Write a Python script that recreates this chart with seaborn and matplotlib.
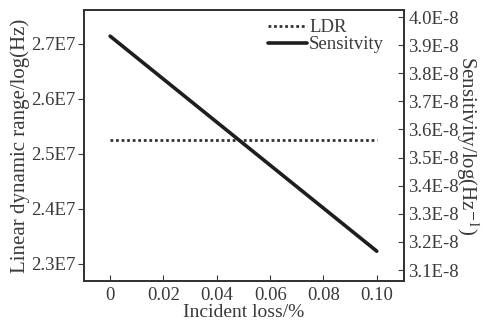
import matplotlib
matplotlib.use("Agg")
import matplotlib.pyplot as plt
import seaborn as sns
import pandas as pd

incident_loss = [0.0, 0.10]
ldr = [2.525e7, 2.525e7]
sensitivity = [3.932e-8, 3.167e-8]
x_ticks = [0, 0.02, 0.04, 0.06, 0.08, 0.10]
x_labels = ["0", "0.02", "0.04", "0.06", "0.08", "0.10"]
left_ticks = [2.3e7, 2.4e7, 2.5e7, 2.6e7, 2.7e7]
left_labels = ["2.3E7", "2.4E7", "2.5E7", "2.6E7", "2.7E7"]
right_ticks = [3.1e-8, 3.2e-8, 3.3e-8, 3.4e-8, 3.5e-8, 3.6e-8, 3.7e-8, 3.8e-8, 3.9e-8, 4.0e-8]
right_labels = ["3.1E-8", "3.2E-8", "3.3E-8", "3.4E-8", "3.5E-8", "3.6E-8", "3.7E-8", "3.8E-8", "3.9E-8", "4.0E-8"]

sns.set_style("ticks")
plt.rcParams["font.family"] = ["Liberation Serif", "DejaVu Serif"]
plt.rcParams["mathtext.fontset"] = "stix"

df = pd.DataFrame({"x": incident_loss, "ldr": ldr, "sens": sensitivity})

fig = plt.figure(figsize=(4.83, 3.24), dpi=100)
ax = fig.add_axes([84/483, 1-281/324, (404-84)/483, (281-10)/324])
ax2 = ax.twinx()

sns.lineplot(data=df, x="x", y="ldr", ax=ax, color="#333333", linestyle=(0, (1, 1)), linewidth=2.0, label="LDR", legend=False)
sns.lineplot(data=df, x="x", y="sens", ax=ax2, color="#1e1e1e", linestyle="-", linewidth=2.6, label="Sensitvity", legend=False)

ax.set_xlim(-0.0098, 0.1102)
ax.set_ylim(2.2687e7, 2.7615e7)
ax2.set_ylim(3.061e-8, 4.025e-8)

ax.set_xticks(x_ticks)
ax.set_xticklabels(x_labels)
ax.set_yticks(left_ticks)
ax.set_yticklabels(left_labels)
ax2.set_yticks(right_ticks)
ax2.set_yticklabels(right_labels)

fs = 13.5
tc = "#3a3a3a"
ax.tick_params(axis="x", direction="in", length=4, labelsize=fs, colors=tc, pad=4)
ax.tick_params(axis="y", direction="out", length=4, labelsize=fs, colors=tc, pad=2)
ax2.tick_params(axis="y", direction="in", length=4, labelsize=fs, colors=tc, pad=3)

ax.set_xlabel("Incident loss/%", fontsize=14, color=tc, labelpad=0)
ax.set_ylabel("Linear dynamic range/log(Hz)", fontsize=15, color=tc, labelpad=1)
ax2.set_ylabel("Sensitivity/log(Hz$^{-1}$)", fontsize=15, color=tc, rotation=-90, labelpad=16)

for a in (ax, ax2):
    for s in a.spines.values():
        s.set_visible(True)
        s.set_color("#333333")
        s.set_linewidth(1.3)

h1, l1 = ax.get_legend_handles_labels()
h2, l2 = ax2.get_legend_handles_labels()
ax2.legend(h1 + h2, l1 + l2, loc="upper right", bbox_to_anchor=(0.95, 0.98), frameon=False, fontsize=fs,
           handlelength=2.1, handletextpad=0.1, borderaxespad=0.0, labelspacing=0.0,
           borderpad=0.2, labelcolor=tc)

fig.savefig("out.png", dpi=100)
